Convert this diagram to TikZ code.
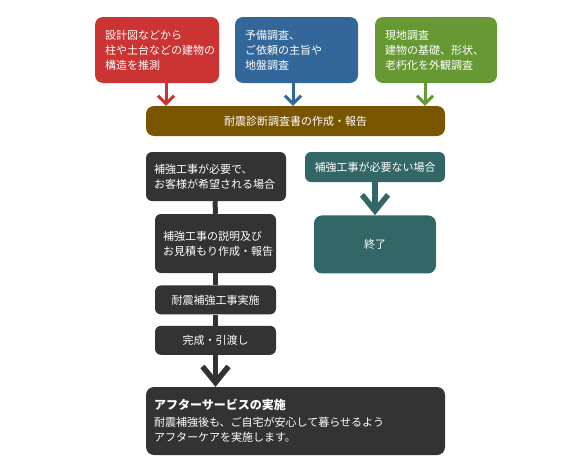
\documentclass[tikz,border=0pt]{standalone}
\usepackage{fontspec}
\newfontfamily\jpfont{Noto Sans CJK JP}
\usetikzlibrary{arrows.meta, positioning}

\definecolor{boxred}{HTML}{CC3333}
\definecolor{boxblue}{HTML}{336699}
\definecolor{boxgreen}{HTML}{669933}
\definecolor{boxbrown}{HTML}{7A5500}
\definecolor{boxdark}{HTML}{333333}
\definecolor{boxteal}{HTML}{336666}

\begin{document}
\begin{tikzpicture}[
    x=1pt, y=-1pt,
    every node/.style={font=\jpfont\fontsize{11}{15}\selectfont, text=white},
    survey/.style={rectangle, rounded corners=8pt, minimum height=66pt, text width=#1, align=left, inner sep=0pt},
    stepbox/.style={rectangle, rounded corners=6pt, fill=boxdark, minimum width=121pt, minimum height=29pt, align=left, inner sep=0pt},
    wide/.style={rectangle, rounded corners=8pt, minimum width=299pt, inner sep=0pt},
    thin/.style={-{Straight Barb[length=8pt, width=16pt]}, line width=3pt},
    fat/.style={-{Straight Barb[length=16pt, width=26pt]}, line width=5.5pt}
]
\useasboundingbox (0,0) rectangle (577,471);

% Surveys
\node[survey=104pt, fill=boxred, minimum width=124pt] (plan) at (157, 50) {設計図などから\\柱や土台などの建物の\\構造を推測};
\node[survey=103pt, fill=boxblue, minimum width=123pt] (ground) at (296.5, 50) {予備調査、\\ご依頼の主旨や\\地盤調査};
\node[survey=102pt, fill=boxgreen, minimum width=122pt] (site) at (436, 50) {現地調査\\建物の基礎、形状、\\老朽化を外観調査};

% Report
\node[wide, fill=boxbrown, minimum height=30pt] (report) at (295.5, 121) {耐震診断調査書の作成・報告};

\draw[thin, boxred] ([xshift=9pt]plan.south) -- ([xshift=9pt]plan.south |- report.north);
\draw[thin, boxblue] ([xshift=-3.5pt]ground.south) -- ([xshift=-3.5pt]ground.south |- report.north);
\draw[thin, boxgreen] ([xshift=-11pt]site.south) -- ([xshift=-11pt]site.south |- report.north);

% Reinforcement needed
\node[stepbox, minimum width=140pt, minimum height=49pt, text width=124pt] (need) at (216, 176.5) {補強工事が必要で、\\お客様が希望される場合};
\node[stepbox, minimum height=59pt, text width=105pt] (quote) at (215.5, 243.5) {補強工事の説明及び\\お見積もり作成・報告};
\node[stepbox, below=12pt of quote, align=center] (work) {耐震補強工事実施};
\node[stepbox, below=11pt of work, align=center] (done) {完成・引渡し};

% Not needed
\node[rectangle, rounded corners=6pt, fill=boxteal, minimum width=140pt, minimum height=30pt] (noneed) at (375, 167) {補強工事が必要ない場合};
\node[rectangle, rounded corners=8pt, fill=boxteal, minimum width=122pt, minimum height=58pt, below=33pt of noneed] (finish) {終了};
\draw[fat, boxteal] (noneed) -- (finish);

% After service
\node[wide, fill=boxdark, minimum height=68pt, text width=283pt, align=left] (after) at (295.5, 421) {{\bfseries\fontsize{12}{16}\selectfont アフターサービスの実施}\\[2pt]耐震補強後も、ご自宅が安心して暮らせるよう\\アフターケアを実施します。};

\begin{scope}[on background layer/.try]
\draw[line width=5pt, boxdark] ([xshift=-1pt]need.south) -- (quote.north);
\draw[line width=5pt, boxdark] (quote) -- (work);
\draw[line width=5pt, boxdark] (work) -- (done);
\end{scope}
\draw[fat, boxdark] (done.south) -- (done.south |- after.north);

\end{tikzpicture}
\end{document}
